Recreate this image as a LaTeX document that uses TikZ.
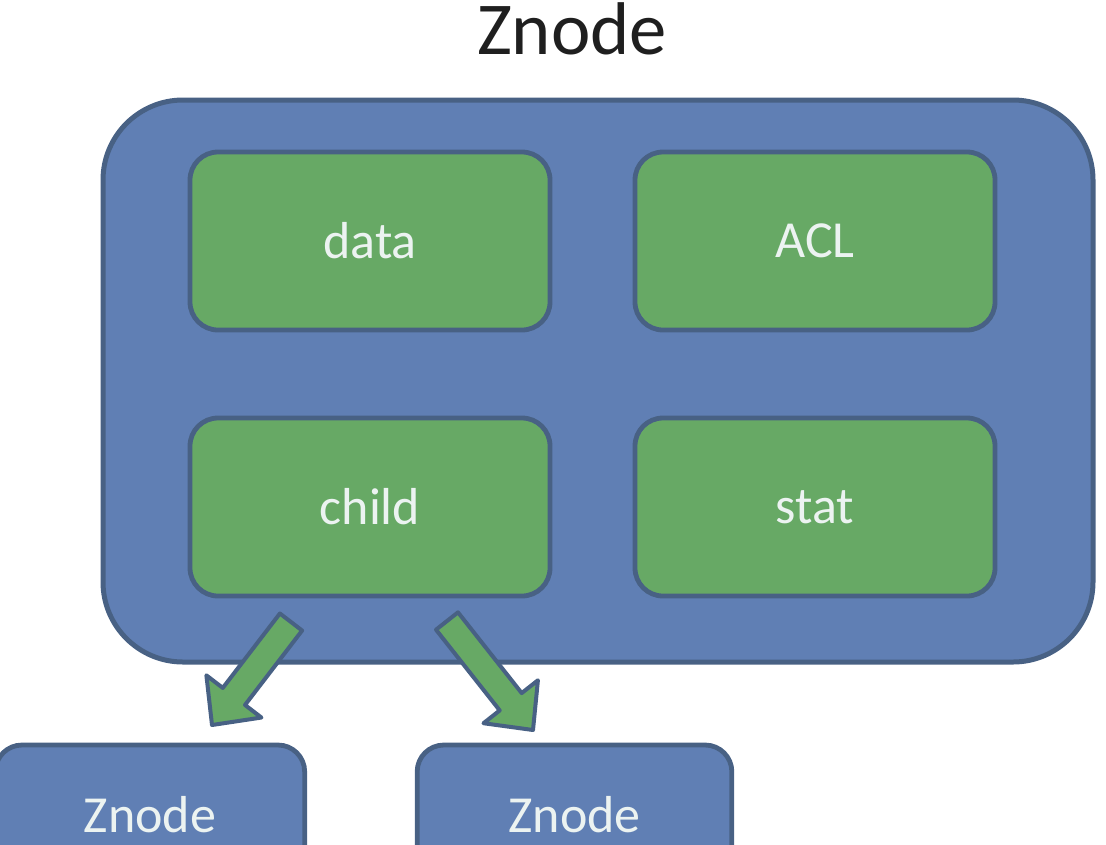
\documentclass[tikz,border=0pt]{standalone}
\usepackage{fontspec}
\setmainfont{Carlito}
\usetikzlibrary{calc}

\definecolor{boxblue}{RGB}{96,127,180}
\definecolor{boxgreen}{RGB}{103,169,101}
\definecolor{edgedark}{RGB}{72,97,132}
\definecolor{labelwhite}{RGB}{236,243,241}

\tikzset{
  outerbox/.style={draw=edgedark, fill=boxblue, line width=3.75pt,
    rounded corners=60pt, inner sep=0pt},
  fieldbox/.style={draw=edgedark, fill=boxgreen, line width=3.6pt,
    rounded corners=21pt, minimum width=270pt, minimum height=133.5pt,
    inner sep=0pt, text=labelwhite, font=\fontsize{39}{47}\selectfont},
  childbox/.style={draw=edgedark, fill=boxblue, line width=3.6pt,
    rounded corners=20pt, minimum height=105pt, inner sep=0pt,
    text=labelwhite, font=\fontsize{39}{47}\selectfont},
  fatarrow/.style={draw=edgedark, fill=boxgreen, line width=3pt, line join=round},
  titletext/.style={inner sep=0pt, text=black!88, font=\fontsize{56}{67}\selectfont}
}

% block arrow from tail #1 to tip #2
\newcommand{\blockarrow}[2]{%
  \coordinate (#1base) at ($(#2)!27pt!(#1)$);
  \draw[fatarrow]
    ($(#1)!10.5pt!90:(#2)$) --
    ($(#1base)!10.5pt!90:(#2)$) --
    ($(#1base)!26pt!90:(#2)$) --
    (#2) --
    ($(#1base)!26pt!-90:(#2)$) --
    ($(#1base)!10.5pt!-90:(#2)$) --
    ($(#1)!10.5pt!-90:(#2)$) -- cycle;
}

\begin{document}
\begin{tikzpicture}[x=0.75pt, y=-0.75pt]
  \useasboundingbox (0,0) rectangle (1106,844);
  \clip (0,0) rectangle (1106,844);

  % title
  \node[titletext] (title) at (572,29) {Znode};

  % znode container
  \node[outerbox, minimum width=742.5pt, minimum height=421.5pt] (znode) at (598,381) {};

  % fields
  \node[fieldbox] (data)  at (370,241) {data};
  \node[fieldbox] (acl)   at (815,241) {ACL};
  \node[fieldbox] (child) at (370,507) {child};
  \node[fieldbox] (stat)  at (815,507) {stat};

  % child znodes
  \node[childbox, minimum width=232pt] (left)  at (150,815) {Znode};
  \node[childbox, minimum width=236pt] (right) at (574.5,815) {Znode};

  % arrows to the children
  \coordinate (tailL) at (291,622);
  \coordinate (tipL)  at (212,725);
  \coordinate (tailR) at (447,621);
  \coordinate (tipR)  at (533,730);
  \blockarrow{tailL}{tipL}
  \blockarrow{tailR}{tipR}
\end{tikzpicture}
\end{document}
